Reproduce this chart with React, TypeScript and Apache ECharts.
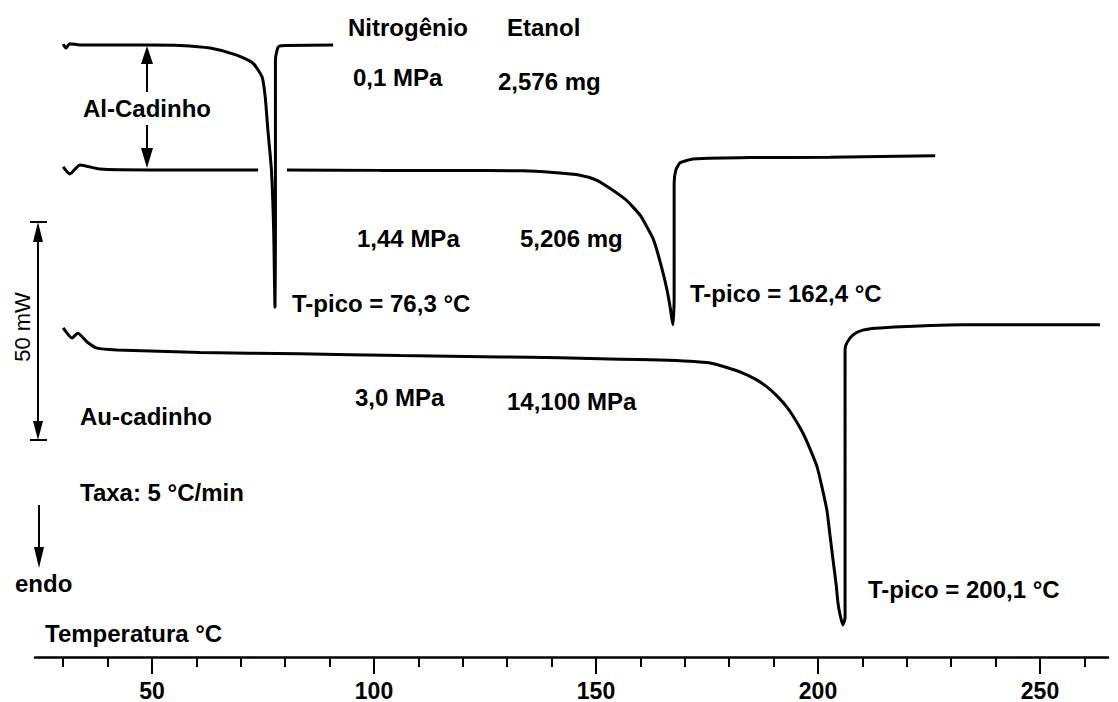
import React, { useEffect, useRef } from "react";
import * as echarts from "echarts";

// Temperature axis (°C)
const majorTicks = [50, 100, 150, 200, 250];
const minorTicks = [30, 40, 50, 60, 70, 80, 90, 100, 110, 120, 130, 140, 150, 160, 170, 180, 190, 200, 210, 220, 230, 240, 250, 260];
const tempRange = [23.65, 265.32];
const heatFlowRange = [0, 147.05]; // mW, arbitrary offset

// Al crucible, 0.1 MPa nitrogen, 2.576 mg ethanol  [°C, mW]
const alCrucible01: (number | null)[][] = [
  [30.0, 139.3], [30.6, 138.4], [31.5, 139.4], [33.8, 139.1], [48.9, 139.1], [56.3, 139.0],
  [63.1, 138.4], [69.1, 136.8], [72.7, 135.0], [74.8, 131.8], [75.5, 127.3], [76.1, 119.8],
  [76.9, 110.7], [77.4, 97.0], [77.7, 79.5], [77.8, 94.8], [77.8, 115.2], [77.8, 135.7],
  [78.2, 138.0], [78.6, 138.8], [80.0, 139.0], [90.8, 139.1],
];

// Al crucible, 1.44 MPa, 5.206 mg
const alCrucible144: (number | null)[][] = [
  [30.0, 111.4], [31.5, 109.8], [33.8, 111.8], [38.3, 110.9], [49.5, 110.7], [73.9, 110.7],
  [77.0, null],
  [80.4, 110.7], [101.4, 110.6], [117.1, 110.6], [133.6, 110.5], [140.4, 110.1], [146.4, 109.5],
  [150.1, 108.4], [153.8, 106.1], [156.5, 104.1], [158.3, 102.3], [160.1, 100.2], [161.5, 97.7],
  [162.8, 95.2], [163.7, 92.5], [165.1, 87.3], [166.0, 83.4], [166.7, 79.5], [167.3, 75.5],
  [167.6, 81.1], [167.6, 92.5], [167.6, 107.7], [168.0, 110.7], [168.9, 112.3], [170.3, 112.8],
  [171.8, 113.2], [184.7, 113.5], [202.7, 113.6], [226.4, 113.9],
];

// Au crucible, 3.0 MPa, 14.100 mg
const auCrucible30: (number | null)[][] = [
  [30.0, 74.8], [32.0, 72.5], [33.3, 73.6], [35.4, 71.6], [37.6, 70.2], [42.1, 69.8],
  [60.8, 69.2], [83.3, 68.9], [105.9, 68.5], [128.4, 68.2], [141.9, 68.0], [155.4, 67.7],
  [164.4, 67.5], [171.2, 67.2], [175.7, 66.8], [179.1, 65.9], [182.4, 64.8], [185.8, 63.2],
  [188.5, 61.4], [190.8, 59.3], [193.0, 56.8], [194.8, 54.1], [196.6, 50.9], [198.2, 47.3],
  [199.8, 43.2], [200.9, 38.6], [202.0, 33.4], [202.7, 27.7], [203.4, 22.0], [204.1, 16.4],
  [204.5, 12.3], [205.0, 9.5], [205.6, 7.3], [206.1, 8.9], [206.1, 35.7], [206.1, 69.8],
  [206.5, 71.4], [207.9, 73.2], [210.1, 74.3], [214.0, 74.8], [232.7, 75.5], [263.5, 75.5],
];

const FONT = '"Liberation Sans", Arial, Helvetica, sans-serif';
const BOLD = `bold 24px ${FONT}`;

function label(text: string, x: number, y: number) {
  return {
    type: "text",
    x,
    y,
    style: { text, font: BOLD, fill: "#000", verticalAlign: "middle", textAlign: "left" },
  };
}

function line(x1: number, y1: number, x2: number, y2: number, w = 2) {
  return { type: "line", shape: { x1, y1, x2, y2 }, style: { stroke: "#000", lineWidth: w } };
}

function tri(points: number[][]) {
  return { type: "polygon", shape: { points }, style: { fill: "#000" } };
}

export default function App() {
  const ref = useRef<HTMLDivElement>(null);

  useEffect(() => {
    if (!ref.current) return;
    const chart = echarts.init(ref.current, null, { renderer: "svg" });
    const seriesStyle = {
      type: "line",
      showSymbol: false,
      symbol: "none",
      connectNulls: false,
      smooth: 0.2,
      lineStyle: { color: "#000", width: 3 },
      silent: true,
    };
    chart.setOption({
      animation: false,
      backgroundColor: "#fff",
      grid: { left: 35, right: 10, top: 10, bottom: 45 },
      xAxis: [
        {
          type: "value",
          min: tempRange[0],
          max: tempRange[1],
          position: "bottom",
          axisLine: { show: true, lineStyle: { color: "#000", width: 2.5 } },
          axisTick: { show: true, customValues: minorTicks, length: 10, lineStyle: { color: "#000", width: 2 } },
          axisLabel: { show: false },
          splitLine: { show: false },
        },
        {
          type: "value",
          min: tempRange[0],
          max: tempRange[1],
          position: "bottom",
          axisLine: { show: false },
          axisTick: { show: true, customValues: majorTicks, length: 17, lineStyle: { color: "#000", width: 2 } },
          axisLabel: {
            show: true,
            customValues: majorTicks,
            margin: 22,
            color: "#000",
            fontSize: 23,
            fontWeight: "bold",
            fontFamily: FONT,
          },
          splitLine: { show: false },
        },
      ],
      yAxis: {
        type: "value",
        min: heatFlowRange[0],
        max: heatFlowRange[1],
        show: false,
        splitLine: { show: false },
      },
      series: [
        { ...seriesStyle, name: "Al 0,1 MPa", data: alCrucible01 },
        { ...seriesStyle, name: "Al 1,44 MPa", data: alCrucible144 },
        { ...seriesStyle, name: "Au 3,0 MPa", data: auCrucible30 },
      ],
      graphic: [
        label("Nitrogênio", 348, 27),
        label("Etanol", 507, 27),
        label("0,1 MPa", 353, 77),
        label("2,576 mg", 498, 81),
        label("Al-Cadinho", 83, 108),
        label("1,44 MPa", 357, 238),
        label("5,206 mg", 520, 238),
        label("T-pico = 76,3 °C", 292, 303),
        label("T-pico = 162,4 °C", 690, 293),
        label("3,0 MPa", 355, 397),
        label("14,100 MPa", 507, 401),
        label("Au-cadinho", 80, 416),
        label("Taxa: 5 °C/min", 80, 492),
        label("endo", 15, 583),
        label("T-pico = 200,1 °C", 868, 589),
        label("Temperatura °C", 45, 633),
        {
          type: "text",
          x: 22,
          y: 327,
          rotation: Math.PI / 2,
          style: { text: "50 mW", font: `22px ${FONT}`, fill: "#000", textAlign: "center", verticalAlign: "middle" },
        },
        // Al-Cadinho double arrow
        line(147, 60, 147, 92),
        line(147, 125, 147, 150),
        tri([[147, 46], [141, 64], [153, 64]]),
        tri([[147, 168], [141, 148], [153, 148]]),
        // 50 mW scale arrow
        line(30, 222, 47, 222),
        line(30, 440, 47, 440),
        line(38, 238, 38, 425),
        tri([[38, 222], [33, 242], [43, 242]]),
        tri([[38, 440], [33, 421], [43, 421]]),
        // endo arrow
        line(39, 505, 39, 550),
        tri([[39, 568], [34, 547], [44, 547]]),
      ],
    });
    return () => chart.dispose();
  }, []);

  return (
    <div
      ref={ref}
      style={{ position: "fixed", left: 0, top: 0, width: 1118, height: 702, background: "#fff" }}
    />
  );
}
